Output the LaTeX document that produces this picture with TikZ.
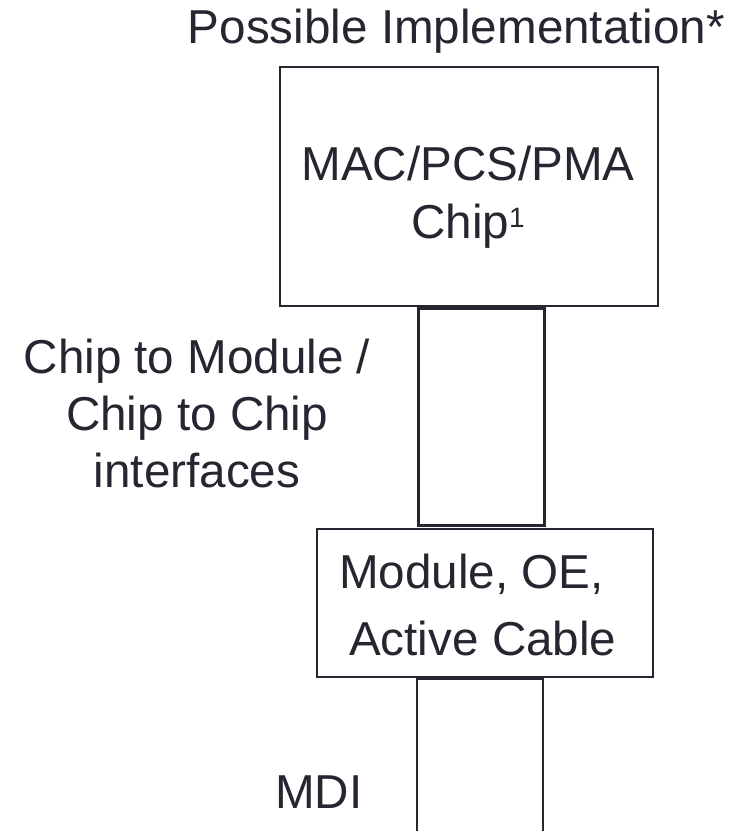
\documentclass[tikz,border=0pt]{standalone}
\usepackage{fontspec}
\setmainfont{Liberation Sans}
\definecolor{ink}{RGB}{38,38,48}
\newcommand{\txtsize}[1]{\fontsize{47.6}{#1}\selectfont}
\begin{document}
\begin{tikzpicture}[x=1pt,y=-1pt,
  box/.style={draw=ink,line width=2pt,inner sep=0pt,anchor=north west},
  ifbox/.style={draw=ink,line width=2.6pt,inner sep=0pt,anchor=north west},
  lbl/.style={text=ink,inner sep=0pt}]
\useasboundingbox (0,0) rectangle (735,831);
% boxes
\node[box,minimum width=378pt,minimum height=239pt] (chip) at (279,66) {};
\node[ifbox,minimum width=126pt,minimum height=217pt] (if1) at (417,307) {};
\node[box,minimum width=336pt,minimum height=148pt] (module) at (316,528) {};
% open-bottom MDI interface
\coordinate (mdiBL) at (417,833);
\coordinate (mdiTL) at (417,679);
\coordinate (mdiTR) at (543,679);
\coordinate (mdiBR) at (543,833);
\draw[ink,line width=2.6pt] (mdiBL) -- (mdiTL) -- (mdiTR) -- (mdiBR);
% texts
\node[lbl,anchor=base,font=\txtsize{57}] (title) at (456.5,43) {Possible Implementation*};
\node[lbl,anchor=base,font=\txtsize{58}] (chiptxt) at (468,180)
  {\begin{tabular}[t]{@{}c@{}}MAC/PCS/PMA\\ Chip\raisebox{11pt}{\fontsize{28}{28}\selectfont 1}\end{tabular}};
\node[lbl,anchor=base,font=\txtsize{57}] (iftxt) at (197,373)
  {\begin{tabular}[t]{@{}c@{}}Chip to Module /\\ Chip to Chip\\ interfaces\end{tabular}};
\node[lbl,anchor=base west,font=\txtsize{67}] (modtxt) at (339,588)
  {\begin{tabular}[t]{@{}l@{}}Module, OE,\\ \hspace*{10pt}Active Cable\end{tabular}};
\node[lbl,anchor=base west,font=\txtsize{57}] (mditxt) at (275,808) {MDI};
\end{tikzpicture}
\end{document}
